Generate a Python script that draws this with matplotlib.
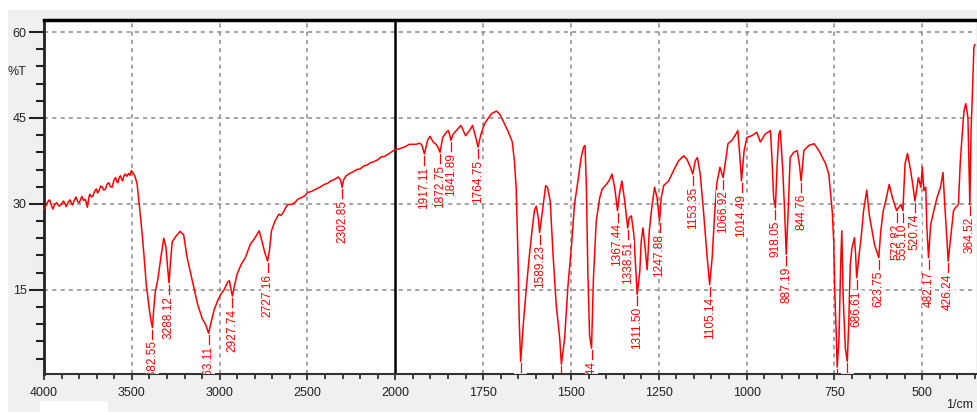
import numpy as np
import matplotlib
matplotlib.use("Agg")
import matplotlib.pyplot as plt
from matplotlib.ticker import FixedLocator, NullFormatter
from matplotlib.patches import Rectangle

plt.rcParams['font.family'] = ['Liberation Sans', 'DejaVu Sans']

# IR spectrum, 4000-2000 cm-1 (wavenumber, %T)
wn_high = [3996, 3986, 3978, 3968, 3958, 3949, 3940, 3927, 3915, 3902, 3889, 3880,
           3874, 3862, 3852, 3843, 3837, 3828, 3818, 3808, 3799, 3790, 3784, 3775,
           3766, 3758, 3753, 3745, 3739, 3730, 3721, 3712, 3702, 3695, 3687, 3678,
           3669, 3660, 3650, 3640, 3631, 3622, 3612, 3602, 3593, 3585, 3579, 3572,
           3565, 3558, 3552, 3545, 3537, 3528, 3519, 3510, 3503, 3496, 3490, 3480,
           3470, 3458, 3445, 3432, 3418, 3400, 3390, 3382.55, 3375, 3366, 3352, 3335,
           3318, 3306, 3296, 3288.12, 3280, 3270, 3250, 3225, 3205, 3185, 3155, 3125,
           3097, 3079, 3063.11, 3047, 3031, 3013, 2994, 2975, 2955, 2945, 2935, 2927.74,
           2918, 2901, 2878, 2854, 2826, 2798, 2775, 2760, 2742, 2727.16, 2716, 2705,
           2685, 2663, 2650, 2638, 2620, 2610, 2590, 2573, 2555, 2535, 2515, 2498,
           2475, 2451, 2430, 2404, 2385, 2367, 2345, 2325, 2312, 2302.85, 2294, 2280,
           2260, 2240, 2220, 2200, 2180, 2160, 2140, 2120, 2100, 2080, 2060, 2040,
           2020, 2000]
t_high = [29.2, 29.9, 30.4, 30.7, 29.7, 29.1, 29.9, 30.2, 29.6, 29.9, 30.5, 30.0,
          29.5, 30.3, 30.7, 30.1, 29.8, 30.6, 31.2, 30.4, 30.2, 30.9, 31.3, 30.6,
          30.8, 30.2, 29.4, 31.0, 31.7, 31.2, 31.4, 32.2, 32.6, 31.9, 32.3, 33.1,
          33.0, 32.4, 32.6, 33.5, 33.7, 33.0, 32.9, 34.1, 34.6, 33.9, 33.7, 34.6,
          34.9, 34.3, 34.0, 34.9, 35.2, 34.8, 35.3, 35.0, 35.8, 35.5, 35.3, 34.6,
          33.5, 30.0, 26.0, 21.5, 16.0, 11.5, 9.5, 8.4, 11.8, 14.7, 16.8, 20.6,
          24.0, 22.5, 18.8, 16.2, 19.8, 23.4, 24.3, 25.2, 24.6, 20.6, 16.5, 12.4,
          9.8, 8.9, 7.4, 9.5, 11.5, 13.0, 14.2, 15.0, 16.3, 16.6, 15.0, 13.9,
          15.4, 17.7, 19.4, 20.6, 22.9, 24.1, 25.3, 23.6, 21.4, 20.0, 22.0, 25.3,
          27.0, 28.2, 28.0, 28.5, 29.6, 29.9, 29.9, 30.2, 30.8, 31.1, 31.4, 32.0,
          32.2, 32.6, 32.9, 33.4, 33.6, 34.0, 34.3, 34.7, 34.2, 32.9, 34.2, 34.9,
          35.3, 35.6, 36.0, 36.1, 36.6, 36.8, 37.2, 37.4, 37.7, 38.2, 38.3, 38.7,
          39.1, 39.5]

# IR spectrum, below 2000 cm-1
wn_low = [1989, 1975, 1960, 1941, 1930, 1924, 1917.11, 1908, 1901, 1892, 1884, 1878,
          1872.75, 1865, 1855, 1849, 1845, 1841.89, 1835, 1822, 1813, 1800, 1789, 1780,
          1770, 1764.75, 1756, 1746, 1735, 1725, 1712, 1702, 1694, 1680, 1667, 1661,
          1656, 1651, 1647, 1643.14, 1635, 1627, 1618, 1610, 1604, 1599, 1593, 1589.23,
          1580, 1572, 1567, 1559, 1551, 1542, 1532, 1527.19, 1518, 1509, 1499, 1490,
          1480, 1471, 1464, 1460, 1456, 1452, 1447, 1441.44, 1436, 1428, 1418, 1411,
          1402, 1392, 1383, 1375, 1367.44, 1362, 1355, 1347, 1338.51, 1334, 1328, 1321,
          1315, 1311.50, 1304, 1300, 1295, 1288, 1283, 1277, 1270, 1262, 1255, 1247.88,
          1243, 1236, 1222, 1208, 1194, 1179, 1170, 1160, 1153.35, 1146, 1140, 1132,
          1122, 1113, 1105.14, 1098, 1091, 1085, 1076, 1066.92, 1061, 1053, 1042, 1033,
          1025, 1019, 1014.49, 1007, 999, 985, 971, 961, 947, 932, 928, 923,
          918.05, 913, 908, 904, 897, 892, 887.19, 882, 876, 866, 856, 850,
          844.76, 837, 823, 808, 794, 775, 766, 756, 752, 749, 745, 742.14,
          737, 732, 729, 725, 719, 713.40, 709, 705, 700, 693, 690, 686.61,
          680, 674, 667, 658, 651, 636, 623.75, 618, 611, 604, 594, 585,
          572.82, 568, 561, 555.10, 549, 542, 533, 526, 520.74, 511, 504, 500,
          495, 490, 487, 482.17, 476, 467, 458, 448, 441, 436, 430, 426.24,
          417, 411, 406, 397, 392, 387, 381, 376, 370, 366, 364.52, 361,
          357, 353, 350]
t_low = [39.6, 39.9, 40.4, 40.4, 40.6, 40.2, 38.7, 41.1, 41.8, 40.8, 40.4, 39.8,
         39.0, 41.6, 42.5, 42.8, 42.0, 41.1, 42.2, 43.1, 43.7, 41.9, 42.8, 43.7,
         41.4, 39.9, 42.2, 44.0, 45.0, 45.8, 46.2, 45.6, 44.6, 42.8, 40.8, 37.5,
         32.9, 21.2, 9.0, 2.5, 9.5, 15.3, 21.2, 25.8, 28.8, 29.6, 27.6, 25.0,
         29.3, 33.2, 32.9, 30.5, 21.2, 12.4, 6.5, 2.0, 6.5, 15.3, 22.3, 29.9,
         34.0, 38.1, 39.9, 40.2, 32.9, 18.2, 7.1, 4.8, 17.0, 27.0, 31.1, 32.6,
         33.2, 34.0, 35.2, 32.6, 28.8, 31.7, 34.0, 30.5, 25.8, 27.6, 27.9, 24.7,
         18.2, 14.2, 18.2, 23.5, 25.8, 21.8, 18.5, 25.3, 29.3, 32.9, 31.1, 27.0,
         31.1, 33.2, 34.0, 35.8, 37.5, 38.4, 37.8, 36.4, 35.2, 37.5, 38.1, 35.2,
         28.2, 21.2, 15.9, 20.6, 28.2, 33.5, 36.4, 34.6, 37.0, 40.5, 41.1, 41.9,
         42.8, 38.1, 34.0, 39.3, 41.6, 41.9, 42.5, 40.8, 42.2, 42.8, 38.1, 31.1,
         29.3, 37.0, 42.2, 42.8, 35.8, 29.0, 21.2, 28.2, 38.1, 39.0, 39.3, 37.0,
         34.0, 39.3, 40.2, 40.5, 39.3, 37.0, 35.2, 28.5, 23.5, 14.7, 7.7, 1.5,
         6.5, 20.0, 25.3, 13.6, 4.8, 2.5, 9.5, 19.4, 22.3, 24.1, 21.5, 17.1,
         21.0, 24.1, 28.8, 32.4, 28.2, 22.9, 20.6, 25.3, 28.8, 30.5, 33.4, 31.1,
         28.8, 29.3, 29.9, 28.8, 37.0, 38.8, 35.8, 32.9, 30.5, 34.6, 32.9, 36.4,
         32.3, 32.9, 26.0, 20.6, 26.4, 28.8, 31.1, 32.9, 35.5, 29.9, 24.1, 20.0,
         25.3, 28.8, 29.3, 29.9, 37.0, 41.6, 46.3, 47.5, 45.1, 34.6, 29.9, 42.8,
         49.8, 57.4, 57.8]

# labelled absorption bands (cm-1)
peak_wn = [3382.55, 3288.12, 3063.11, 2927.74, 2727.16, 2302.85,
           1917.11, 1872.75, 1841.89, 1764.75, 1643.14, 1589.23, 1527.19,
           1441.44, 1367.44, 1338.51, 1311.50, 1247.88, 1153.35, 1105.14,
           1066.92, 1014.49, 918.05, 887.19, 844.76, 742.14, 713.40, 686.61,
           623.75, 572.82, 555.10, 520.74, 482.17, 426.24, 364.52]

x_major = [4000, 3500, 3000, 2500, 2000, 1750, 1500, 1250, 1000, 750, 500]
x_minor = list(range(3900, 2000, -100)) + list(range(1950, 340, -50))
y_major = [15, 30, 45, 60]
y_minor = list(range(3, 62, 3))

wn = np.array(wn_high + wn_low, dtype=float)
tr = np.array(t_high + t_low, dtype=float)


# compressed-high / expanded-low wavenumber axis (break at 2000 cm-1)
def fwd(v):
    v = np.asarray(v, dtype=float)
    return np.where(v >= 2000, 1000 + (v - 2000) / 2.0, v - 1000)


def inv(u):
    u = np.asarray(u, dtype=float)
    return np.where(u >= 1000, 2000 + 2.0 * (u - 1000), u + 1000)


W, H = 977, 412
fig = plt.figure(figsize=(W / 100, H / 100), dpi=100)
fig.patch.set_facecolor('white')
fig.patches.append(Rectangle((8 / W, 0), 1, 1 - 10 / H, transform=fig.transFigure,
                             facecolor='#f0f0f0', edgecolor='none', zorder=-10))
fig.patches.append(Rectangle((40 / W, 0), 68 / W, 11 / H, transform=fig.transFigure,
                             facecolor='white', edgecolor='none', zorder=-9))

ax = fig.add_axes([44 / W, 1 - 374 / H, 932 / W, 354 / H])
ax.set_facecolor('white')
ax.set_xscale('function', functions=(fwd, inv))
ax.set_xlim(4000, 347)
ax.set_ylim(0.3, 62.1)

# grid
grid_kw = dict(color='#8a8a8a', lw=1.1, ls=(0, (2.7, 2.7)), zorder=1)
for x in x_major:
    if x in (4000, 2000):
        continue
    ax.axvline(x, **grid_kw)
for y in y_major:
    ax.axhline(y, **grid_kw)
ax.axvline(2000, color='black', lw=1.8, zorder=1.5)

# spectrum
ax.plot(wn, tr, color='#ff0000', lw=1.1, zorder=3)

# band labels
wn_asc = wn[::-1]
tr_asc = tr[::-1]
for p in peak_wn:
    t = float(np.interp(p, wn_asc, tr_asc))
    ax.plot([p, p], [t - 0.35, t - 2.1], color='#ff0000', lw=0.9, zorder=4,
            clip_on=True)
    ax.text(p, t - 2.2, f"{p:.2f}", rotation=90, ha='center', va='top',
            fontsize=8.6, color='#ff0000', zorder=5, clip_on=True,
            bbox=dict(facecolor='white', edgecolor='none', pad=0.4, alpha=0.85))

# axes styling
ax.xaxis.set_major_locator(FixedLocator(x_major))
ax.xaxis.set_minor_locator(FixedLocator(x_minor))
ax.set_xticklabels([str(v) for v in x_major])
ax.xaxis.set_minor_formatter(NullFormatter())
ax.yaxis.set_major_locator(FixedLocator(y_major))
ax.yaxis.set_minor_locator(FixedLocator([v for v in y_minor if v not in y_major]))
ax.set_yticklabels([str(v) for v in y_major])

ax.tick_params(axis='x', which='major', direction='out', length=4.5, width=1.2,
               pad=5, labelsize=9, labelcolor='#222222', color='#222222')
ax.tick_params(axis='x', which='minor', direction='out', length=3.5, width=1.2,
               color='#222222')
ax.tick_params(axis='y', which='major', direction='out', length=11, width=1.5,
               pad=1.5, labelsize=9, labelcolor='#222222', color='#222222')
ax.tick_params(axis='y', which='minor', direction='out', length=6, width=1.5,
               color='#222222')

ax.spines['top'].set_linewidth(2.5)
ax.spines['top'].set_color('black')
ax.spines['left'].set_linewidth(2.0)
ax.spines['left'].set_color('#222222')
ax.spines['bottom'].set_linewidth(1.5)
ax.spines['bottom'].set_color('#333333')
ax.spines['right'].set_visible(False)

fig.text(17 / W, 1 - 72 / H, '%T', fontsize=9, color='#222222',
         ha='center', va='center')
fig.text(960 / W, 1 - 405 / H, '1/cm', fontsize=9, color='#222222',
         ha='center', va='center')

fig.savefig('out.png', dpi=100, facecolor=fig.get_facecolor())
